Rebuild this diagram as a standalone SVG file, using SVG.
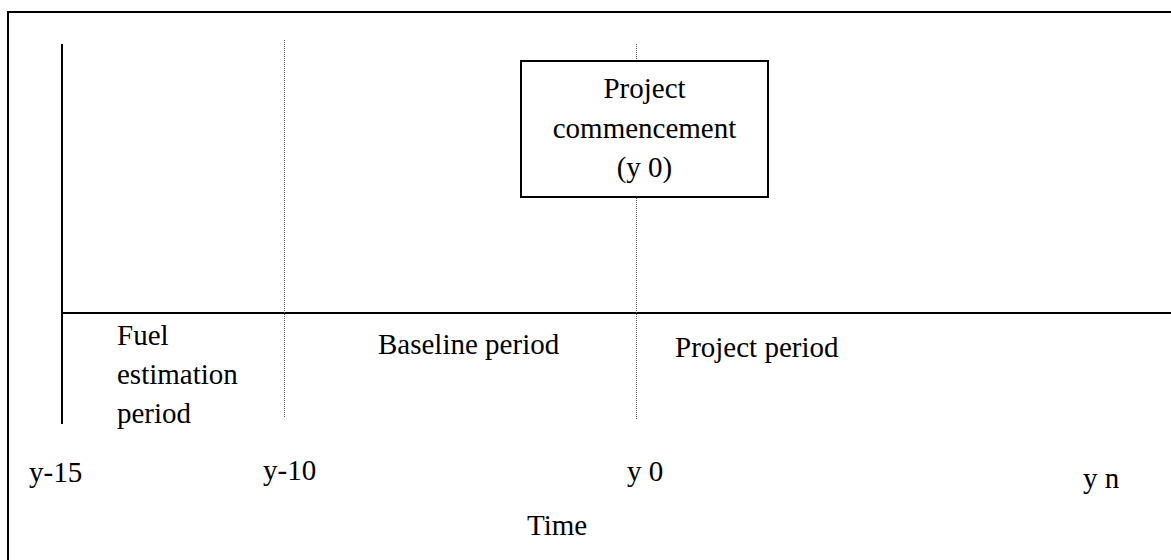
<svg xmlns="http://www.w3.org/2000/svg" width="1171" height="560" viewBox="0 0 1171 560">
<style>
text{font-family:"Liberation Serif","Times New Roman",serif;font-size:29px;fill:#000}
.solid{stroke:#000;stroke-width:2;fill:none}
.dot{stroke:#555;stroke-width:1;stroke-dasharray:1 1;fill:none}
.mid{text-anchor:middle}
</style>
<rect width="1171" height="560" fill="#fff"/>
<g id="frame">
<path class="solid" d="M8 560 V12 H1171"/>
</g>
<g id="connectors">
<line class="solid" x1="62" y1="44" x2="62" y2="424"/>
<line class="solid" x1="62" y1="313" x2="1171" y2="313"/>
<line class="dot" x1="284.5" y1="40" x2="284.5" y2="417"/>
<line class="dot" x1="636.5" y1="44" x2="636.5" y2="420"/>
</g>
<g id="commencement">
<rect x="521" y="61" width="247" height="136" fill="#fff" stroke="#000" stroke-width="2"/>
<text class="mid" x="644.5" y="98">Project</text>
<text class="mid" x="644.5" y="138">commencement</text>
<text class="mid" x="644.5" y="177">(y 0)</text>
</g>
<g id="fuel-period">
<text x="117" y="345">Fuel</text>
<text x="117" y="384">estimation</text>
<text x="117" y="423">period</text>
</g>
<g id="baseline-period"><text x="378" y="354">Baseline period</text></g>
<g id="project-period"><text x="675" y="357">Project period</text></g>
<g id="ticks">
<text x="29" y="482">y-15</text>
<text x="263" y="480">y-10</text>
<text x="627" y="481">y 0</text>
<text x="1083" y="488">y n</text>
</g>
<g id="axis-label"><text x="527" y="535">Time</text></g>
</svg>
